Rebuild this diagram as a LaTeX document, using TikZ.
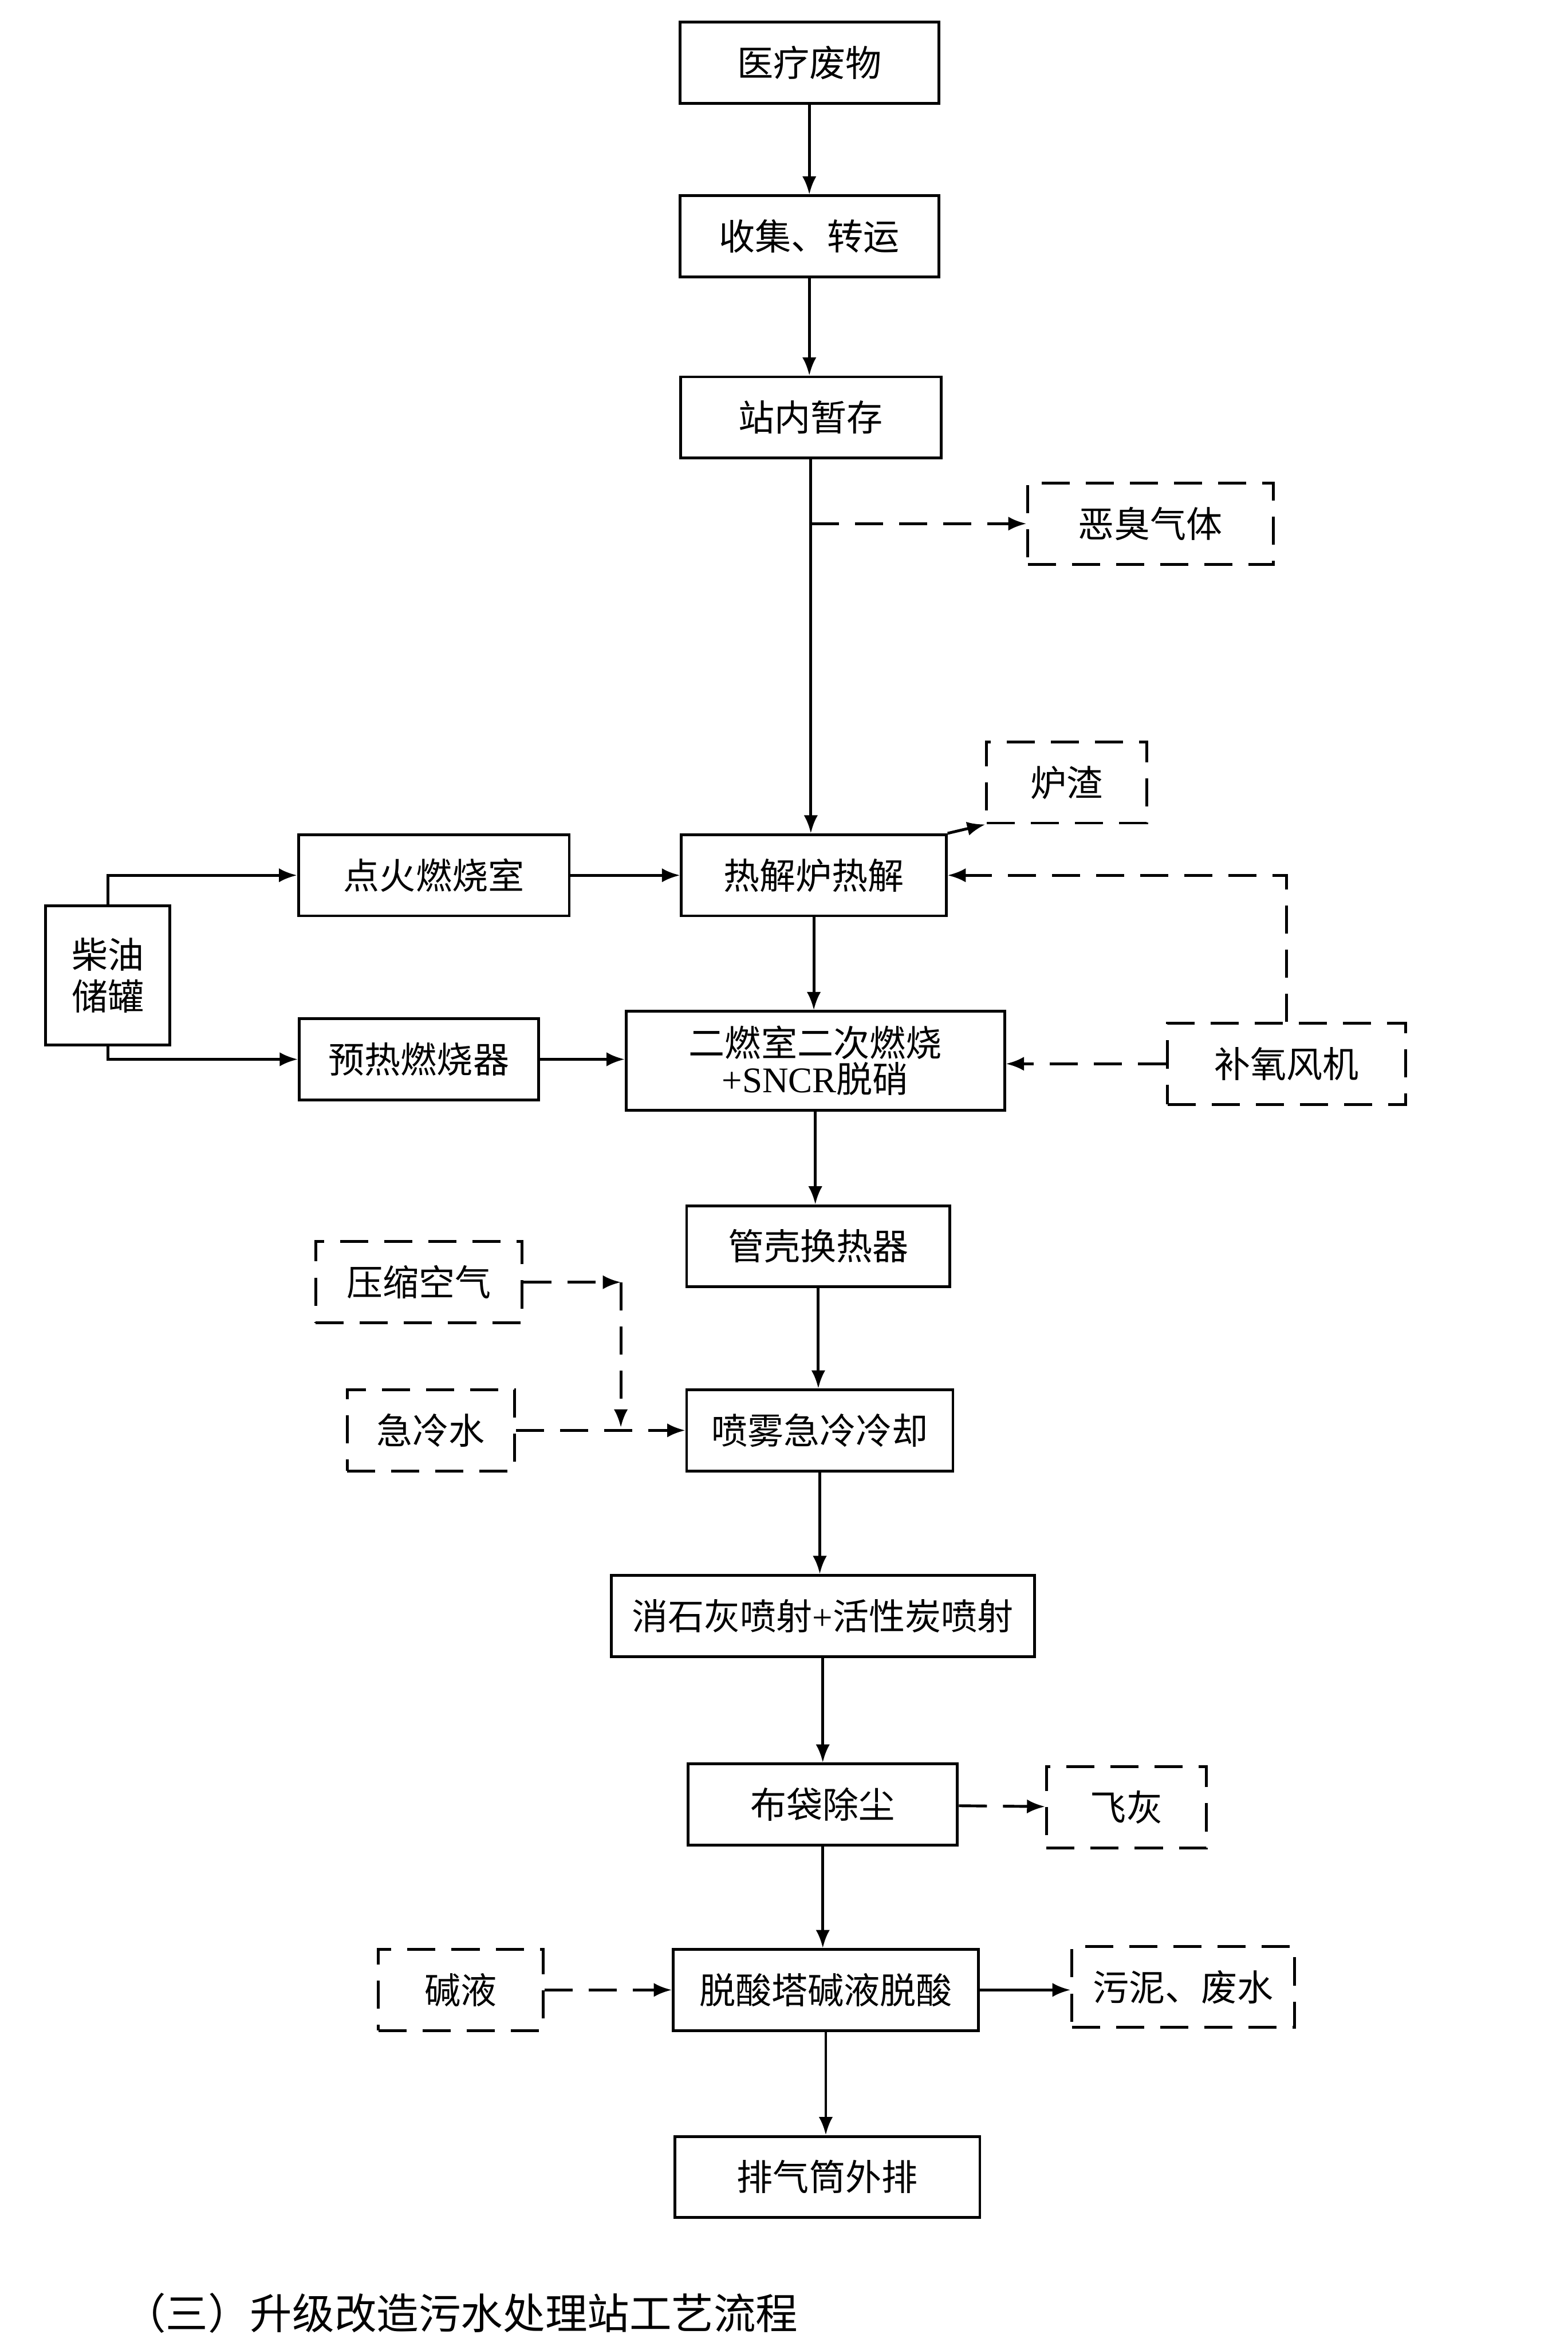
\documentclass[tikz,border=0pt]{standalone}
\usepackage{fontspec}
\setmainfont{Liberation Serif}
\newfontfamily\cjk{Noto Sans CJK SC}
\usetikzlibrary{arrows.meta,positioning}
\tikzset{
  box/.style={draw,line width=1.4pt,minimum height=1.42cm,inner sep=0pt,align=center,font=\cjk\fontsize{18}{21}\selectfont},
  dbox/.style={box,dash pattern=on 14pt off 8pt},
  flow/.style={line width=1.4pt,-{Latex[length=9pt,width=7pt]}},
  dflow/.style={flow,dash pattern=on 14pt off 8pt}
}
\begin{document}
\begin{tikzpicture}[x=0.0262cm,y=-0.0262cm]
\useasboundingbox (0,0) rectangle (1048,1568);
% main chain
\node[box,minimum width=173*0.0262cm] (waste) at (541,42) {医疗废物};
\node[box,minimum width=173*0.0262cm] (collect) at (541,158) {收集、转运};
\node[box,minimum width=174*0.0262cm] (store) at (542,279) {站内暂存};
\node[box,minimum width=177*0.0262cm] (pyro) at (544,585) {热解炉热解};
\node[box,minimum width=253*0.0262cm,minimum height=66*0.0262cm] (second) at (545,709) {二燃室二次燃烧\\[-3pt]{\rmfamily +SNCR}脱硝};
\node[box,minimum width=176*0.0262cm] (hex) at (547,833) {管壳换热器};
\node[box,minimum width=178*0.0262cm] (quench) at (548,956) {喷雾急冷冷却};
\node[box,minimum width=283*0.0262cm] (lime) at (550,1080) {消石灰喷射{\rmfamily +}活性炭喷射};
\node[box,minimum width=180*0.0262cm] (bag) at (550,1206) {布袋除尘};
\node[box,minimum width=204*0.0262cm] (acid) at (552,1330) {脱酸塔碱液脱酸};
\node[box,minimum width=204*0.0262cm] (stack) at (553,1455) {排气筒外排};

% side boxes
\node[dbox,minimum width=164*0.0262cm] (odor) at (769,350) {恶臭气体};
\node[dbox,minimum width=107*0.0262cm] (slag) at (713,523) {炉渣};
\node[box,minimum width=181*0.0262cm] (ignite) at (290,585) {点火燃烧室};
\node[box,minimum width=83*0.0262cm,minimum height=93*0.0262cm] (diesel) at (72,652) {柴油\\储罐};
\node[box,minimum width=160*0.0262cm] (preheat) at (280,708) {预热燃烧器};
\node[dbox,minimum width=159*0.0262cm] (fan) at (860,711) {补氧风机};
\node[dbox,minimum width=138*0.0262cm] (air) at (280,857) {压缩空气};
\node[dbox,minimum width=112*0.0262cm] (water) at (288,956) {急冷水};
\node[dbox,minimum width=107*0.0262cm] (ash) at (753,1208) {飞灰};
\node[dbox,minimum width=110*0.0262cm] (lye) at (308,1330) {碱液};
\node[dbox,minimum width=149*0.0262cm] (sludge) at (791,1328) {污泥、废水};

% main arrows
\draw[flow] (waste) -- (collect);
\draw[flow] (collect) -- (collect.south |- store.north);
\draw[flow] (store) -- (store.south |- pyro.north);
\draw[flow] (pyro) -- (pyro.south |- second.north);
\draw[flow] (second) -- (second.south |- hex.north);
\draw[flow] (hex) -- (hex.south |- quench.north);
\draw[flow] (quench) -- (quench.south |- lime.north);
\draw[flow] (lime) -- (lime.south |- bag.north);
\draw[flow] (bag) -- (bag.south |- acid.north);
\draw[flow] (acid) -- (acid.south |- stack.north);

% side arrows
\coordinate (tap) at (store.south |- odor.west);
\draw[dflow] (tap) -- (odor.west);
\draw[flow] (pyro.north east) -- (slag.south west);
\draw[flow] (ignite) -- (pyro);
\draw[flow] (diesel.north) |- (ignite.west);
\draw[flow] (diesel.south) |- (preheat.west);
\draw[flow] (preheat) -- (preheat.east -| second.west);
\draw[dflow] (fan) -- (fan.west -| second.east);
\draw[dflow] (fan.north) |- (pyro.east);
\coordinate (bend) at (415,857);
\coordinate (drop) at (415,954);
\draw[dflow] (air.east) -- (bend);
\draw[dflow] (bend) -- (drop);
\draw[dflow] (water) -- (water.east -| quench.west);
\draw[dflow] (bag) -- (ash);
\draw[dflow] (lye) -- (acid);
\draw[flow] (acid) -- (acid.east -| sludge.west);

% caption
\node[anchor=west,font=\cjk\fontsize{21}{24}\selectfont] (title) at (78,1546) {（三）升级改造污水处理站工艺流程};
\end{tikzpicture}
\end{document}
